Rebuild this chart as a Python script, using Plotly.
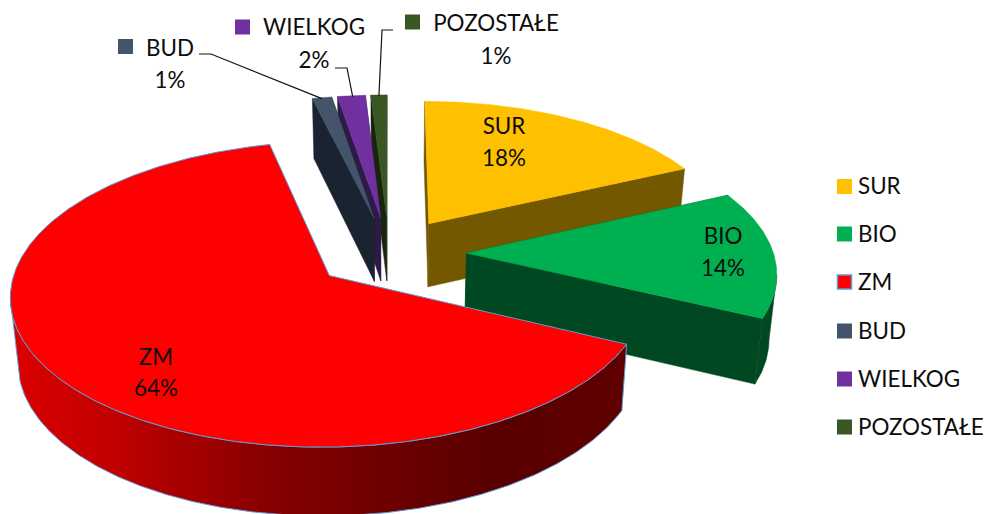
import numpy as np
import plotly.graph_objects as go

categories = ["SUR", "BIO", "ZM", "BUD", "WIELKOG", "POZOSTAŁE"]
shares = [18.05, 14.05, 64.15, 1.15, 1.65, 0.95]

top_colors = ["#FFC000", "#00B050", "#FF0000", "#44546A", "#7030A0", "#385723"]
side_colors = ["#735800", "#004822", "#800000", "#1A2330", "#2E1A47", "#17250F"]

# projection of the tilted pie
CX, CY, A, B, K = 389.0, 253.0, 310.0, 145.3, 0.119
EXPLODE = [0.245, 0.25, 0.243, 0.25, 0.25, 0.25]
RADIUS = [0.985, 0.99, 1, 1, 1, 1]
FONT = "Lato"
FS = 22.4
INK = "#0D0D0D"
EDGE = "#5B9BD5"


def proj(X, Y):
    s = 1 / (1 - K * Y)
    return CX + X * A * s, CY + Y * B * s


def drop(sx, sy):
    return CX + (sx - CX) * 0.98, sy + 60 + (sy - 97) * 0.025


fig = go.Figure()


def poly(xs, ys, color, edge=None, grad=None):
    kw = {}
    if grad is not None:
        kw["fillgradient"] = grad
    else:
        kw["fillcolor"] = color
    fig.add_trace(go.Scatter(
        x=list(xs) + [xs[0]], y=list(ys) + [ys[0]], mode="lines", fill="toself",
        line=dict(color=edge or color, width=1 if edge else 0.5),
        hoverinfo="skip", showlegend=False, **kw))


total = sum(shares)
edges = np.concatenate([[0], np.cumsum(shares)]) / total * 360
slices = {}
for i, c in enumerate(categories):
    a, b = edges[i], edges[i + 1]
    mid = (a + b) / 2
    th = np.radians(np.linspace(a, b, max(3, int((b - a) * 2) + 1)))
    m = np.radians(mid)
    ox, oy = EXPLODE[i] * np.sin(m), -EXPLODE[i] * np.cos(m)
    rx, ry = proj(ox + RADIUS[i] * np.sin(th), oy - RADIUS[i] * np.cos(th))
    ax, ay = proj(ox, oy)
    slices[i] = dict(rx=rx, ry=ry, ax=ax, ay=ay)

for i in [5, 4, 3, 0, 1, 2]:
    s = slices[i]
    rx, ry, ax, ay = s["rx"], s["ry"], s["ax"], s["ay"]
    dx, dy = drop(rx, ry)
    bx, by = drop(ax, ay)
    is_zm = categories[i] == "ZM"
    edge = EDGE if is_zm else None
    if not is_zm:
        poly([ax, rx[0], dx[0], bx], [ay, ry[0], dy[0], by], side_colors[i])
        poly([ax, rx[-1], dx[-1], bx], [ay, ry[-1], dy[-1], by], side_colors[i])
    # only the viewer-facing run of the outer wall, so the band never folds over itself
    i0 = int(np.argmax(rx))
    i1 = i0 + int(np.argmin(rx[i0:]))
    if i1 - i0 >= 1:
        grad = None
        if is_zm:
            grad = dict(type="horizontal", start=10, stop=630,
                        colorscale=[[0, "#DC0000"], [0.15, "#C40000"], [0.42, "#860000"],
                                    [0.78, "#580000"], [1, "#600000"]])
        wx, wy = rx[i0:i1 + 1], ry[i0:i1 + 1]
        ex, ey = dx[i0:i1 + 1], dy[i0:i1 + 1]
        poly(list(wx) + list(ex[::-1]), list(wy) + list(ey[::-1]), side_colors[i], edge=edge, grad=grad)
    poly([ax] + list(rx), [ay] + list(ry), top_colors[i], edge=edge)

# leader lines: from the label elbow to the middle of the slice's rim
elbows = {3: [(199, 54), (211, 54)], 4: [(335, 68), (347, 68)], 5: [(393, 30), (382, 30)]}
for i, pts in elbows.items():
    s = slices[i]
    n = len(s["rx"]) // 2
    fig.add_trace(go.Scatter(
        x=[p[0] for p in pts] + [s["rx"][n]], y=[p[1] for p in pts] + [s["ry"][n] + 1],
        mode="lines", line=dict(color="#111111", width=1.2), hoverinfo="skip", showlegend=False))


def text(x, y, t, pos="middle center"):
    fig.add_trace(go.Scatter(
        x=[x], y=[y + 2], text=[t], mode="text", textposition=pos,
        textfont=dict(family=FONT, size=FS, color=INK), hoverinfo="skip", showlegend=False))


label_pos = {0: (504, 126, 158), 1: (723, 236, 268), 2: (156, 357, 388),
             3: (170, 48, 80), 4: (314, 27, 60), 5: (496, 23, 56)}
for i, (x, y1, y2) in label_pos.items():
    text(x, y1, categories[i])
    text(x, y2, f"{round(shares[i] / total * 100)}%")

key_pos = {3: (125.5, 46.5), 4: (242.5, 27), 5: (412.5, 22)}
for i, (x, y) in key_pos.items():
    fig.add_trace(go.Scatter(x=[x], y=[y], mode="markers", hoverinfo="skip", showlegend=False,
                             marker=dict(symbol="square", size=15, color=top_colors[i], line_width=0)))

legend_y = [186.5, 234, 282, 331, 379, 427]
for i, c in enumerate(categories):
    line = dict(width=1.5, color=EDGE) if c == "ZM" else dict(width=0)
    fig.add_trace(go.Scatter(x=[844.5], y=[legend_y[i]], mode="markers", hoverinfo="skip", showlegend=False,
                             marker=dict(symbol="square", size=14 if c == "ZM" else 15, color=top_colors[i], line=line)))
    text(858, legend_y[i], c, "middle right")

fig.update_layout(
    width=987, height=514, margin=dict(l=0, r=0, t=0, b=0),
    paper_bgcolor="white", plot_bgcolor="white", showlegend=False,
    xaxis=dict(range=[0, 987], visible=False, fixedrange=True),
    yaxis=dict(range=[514, 0], visible=False, fixedrange=True),
)
fig.write_html("out.html", config={"displayModeBar": False},
               post_script="document.body.style.margin='0';")
